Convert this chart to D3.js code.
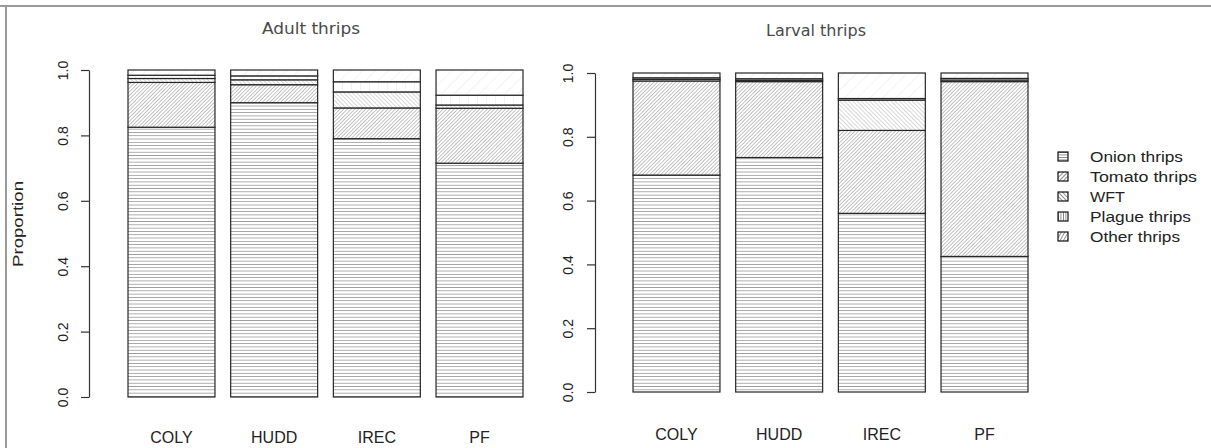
<!DOCTYPE html>
<html>
<head>
<meta charset="utf-8">
<script src="https://cdn.jsdelivr.net/npm/d3@7"></script>
<style>
  html, body { margin: 0; padding: 0; background: #fff; }
  svg { display: block; }
  text { font-family: "Liberation Sans", Arial, sans-serif; fill: #222; }
  .title { font-family: "Liberation Sans Narrow", "DejaVu Sans Condensed", "Liberation Sans", sans-serif; fill: #4a4a4a; }
</style>
</head>
<body>
<svg id="chart" width="1211" height="448"></svg>
<script>
// Sites and thrips groups
const categories = ["COLY", "HUDD", "IREC", "PF"];
const species = ["Onion thrips", "Tomato thrips", "WFT", "Plague thrips", "Other thrips"];
const yTicks = [0, 0.2, 0.4, 0.6, 0.8, 1.0];

// Adult thrips: proportion of each group per site
const adultOnion  = [0.825, 0.900, 0.790, 0.715];
const adultTomato = [0.137, 0.055, 0.094, 0.168];
const adultWFT    = [0.012, 0.015, 0.049, 0.010];
const adultPlague = [0.010, 0.012, 0.031, 0.030];
const adultOther  = [0.016, 0.018, 0.036, 0.077];

// Larval thrips: proportion of each group per site
const larvalOnion  = [0.680, 0.735, 0.560, 0.425];
const larvalTomato = [0.295, 0.238, 0.260, 0.548];
const larvalWFT    = [0.005, 0.004, 0.095, 0.005];
const larvalPlague = [0.005, 0.005, 0.005, 0.005];
const larvalOther  = [0.015, 0.018, 0.080, 0.017];

const svg = d3.select("#chart");
const defs = svg.append("defs");

// Hatch fills: one line pattern per group (angle, spacing, colour)
function hatch(id, angle, spacing, color, width) {
  const p = defs.append("pattern")
    .attr("id", id)
    .attr("patternUnits", "userSpaceOnUse")
    .attr("width", spacing).attr("height", spacing)
    .attr("patternTransform", `rotate(${angle})`);
  p.append("rect").attr("width", spacing).attr("height", spacing).attr("fill", "#fff");
  p.append("line").attr("x1", 0).attr("y1", 0).attr("x2", 0).attr("y2", spacing)
    .attr("stroke", color).attr("stroke-width", width);
}
hatch("p-onion", 90, 3.3, "#5a5a5a", 1);
hatch("p-tomato", 45, 2.6, "#8a8a8a", 1);
hatch("p-wft", -45, 3, "#b4b4b4", 1);
hatch("p-plague", 0, 9, "#e6e6e6", 1);
hatch("p-other", 45, 9, "#e8e8e8", 1);
const fills = ["p-onion", "p-tomato", "p-wft", "p-plague", "p-other"];

// Denser versions for the small legend keys
hatch("l-onion", 90, 2.5, "#222", 1);
hatch("l-tomato", 45, 3, "#222", 1);
hatch("l-wft", -45, 3, "#222", 1);
hatch("l-plague", 0, 2.5, "#222", 1);
hatch("l-other", 30, 3, "#222", 1);
const legendFills = ["l-onion", "l-tomato", "l-wft", "l-plague", "l-other"];

// Frame lines
svg.append("line").attr("x1", 0).attr("x2", 1211).attr("y1", 6).attr("y2", 6)
  .attr("stroke", "#9a9a9a").attr("stroke-width", 2);
svg.append("line").attr("x1", 6).attr("x2", 6).attr("y1", 5).attr("y2", 448)
  .attr("stroke", "#9a9a9a").attr("stroke-width", 2);

function panel(opts) {
  const rows = categories.map((c, i) => {
    const r = { site: c };
    opts.series.forEach((s, k) => { r[species[k]] = s[i]; });
    return r;
  });
  const stacked = d3.stack().keys(species)(rows);

  const x = d3.scaleBand().domain(categories).range(opts.xRange)
    .paddingInner(0.153).paddingOuter(0);
  const y = d3.scaleLinear().domain([0, 1]).range(opts.yRange);

  const g = svg.append("g");

  g.selectAll("g.layer").data(stacked).join("g")
    .attr("class", "layer")
    .attr("fill", (d, k) => `url(#${fills[k]})`)
    .selectAll("rect").data(d => d).join("rect")
    .attr("x", d => x(d.data.site))
    .attr("width", x.bandwidth())
    .attr("y", d => y(d[1]))
    .attr("height", d => y(d[0]) - y(d[1]))
    .attr("stroke", "#262626").attr("stroke-width", 1.2);

  // y axis
  const ax = g.append("g").attr("transform", `translate(${opts.axisX},0)`)
    .call(d3.axisLeft(y).tickValues(yTicks).tickFormat(d3.format(".1f"))
      .tickSize(8).tickSizeOuter(0).tickPadding(0));
  ax.select(".domain").attr("stroke", "#333").attr("stroke-width", 1.2);
  ax.selectAll(".tick line").attr("stroke", "#333").attr("stroke-width", 1.2);
  ax.selectAll(".tick text")
    .attr("x", null).attr("dy", null)
    .attr("text-anchor", "middle")
    .attr("transform", `translate(${opts.labelX - opts.axisX},0) rotate(-90)`)
    .style("font-size", "14px")
    .style("font-family", "'Liberation Sans', Arial, sans-serif")
    .attr("fill", "#222");

  // site labels
  g.selectAll("text.site").data(categories).join("text")
    .attr("class", "site")
    .attr("x", d => x(d) + x.bandwidth() / 2)
    .attr("y", opts.siteY)
    .attr("text-anchor", "middle")
    .style("font-size", "16px")
    .text(d => d);

  // panel title
  g.append("text").attr("class", "title")
    .attr("x", opts.titleX).attr("y", opts.titleY)
    .attr("text-anchor", "middle")
    .attr("textLength", opts.titleW).attr("lengthAdjust", "spacingAndGlyphs")
    .style("font-size", "15px")
    .text(opts.title);
}

panel({
  title: "Adult thrips", titleX: 311, titleY: 34, titleW: 98,
  series: [adultOnion, adultTomato, adultWFT, adultPlague, adultOther],
  xRange: [128, 523], yRange: [397, 70],
  axisX: 89, labelX: 68, siteY: 443
});

panel({
  title: "Larval thrips", titleX: 816, titleY: 36, titleW: 100,
  series: [larvalOnion, larvalTomato, larvalWFT, larvalPlague, larvalOther],
  xRange: [633, 1028], yRange: [392, 73],
  axisX: 595, labelX: 573, siteY: 440
});

// y-axis title
svg.append("text")
  .attr("transform", "translate(23,224) rotate(-90)")
  .attr("text-anchor", "middle")
  .attr("textLength", 86).attr("lengthAdjust", "spacingAndGlyphs")
  .style("font-size", "14px")
  .text("Proportion");

// legend
const legendW = [93, 107, 35, 101, 90];
const lg = svg.append("g");
const item = lg.selectAll("g").data(species).join("g")
  .attr("transform", (d, i) => `translate(1058,${157 + i * 20})`);
item.append("rect")
  .attr("x", 0).attr("y", -5).attr("width", 10).attr("height", 9)
  .attr("fill", (d, i) => `url(#${legendFills[i]})`)
  .attr("stroke", "#111").attr("stroke-width", 1.2);
item.append("text")
  .attr("x", 32).attr("y", 5)
  .attr("textLength", (d, i) => legendW[i]).attr("lengthAdjust", "spacingAndGlyphs")
  .style("font-size", "14px")
  .text(d => d);
</script>
</body>
</html>
